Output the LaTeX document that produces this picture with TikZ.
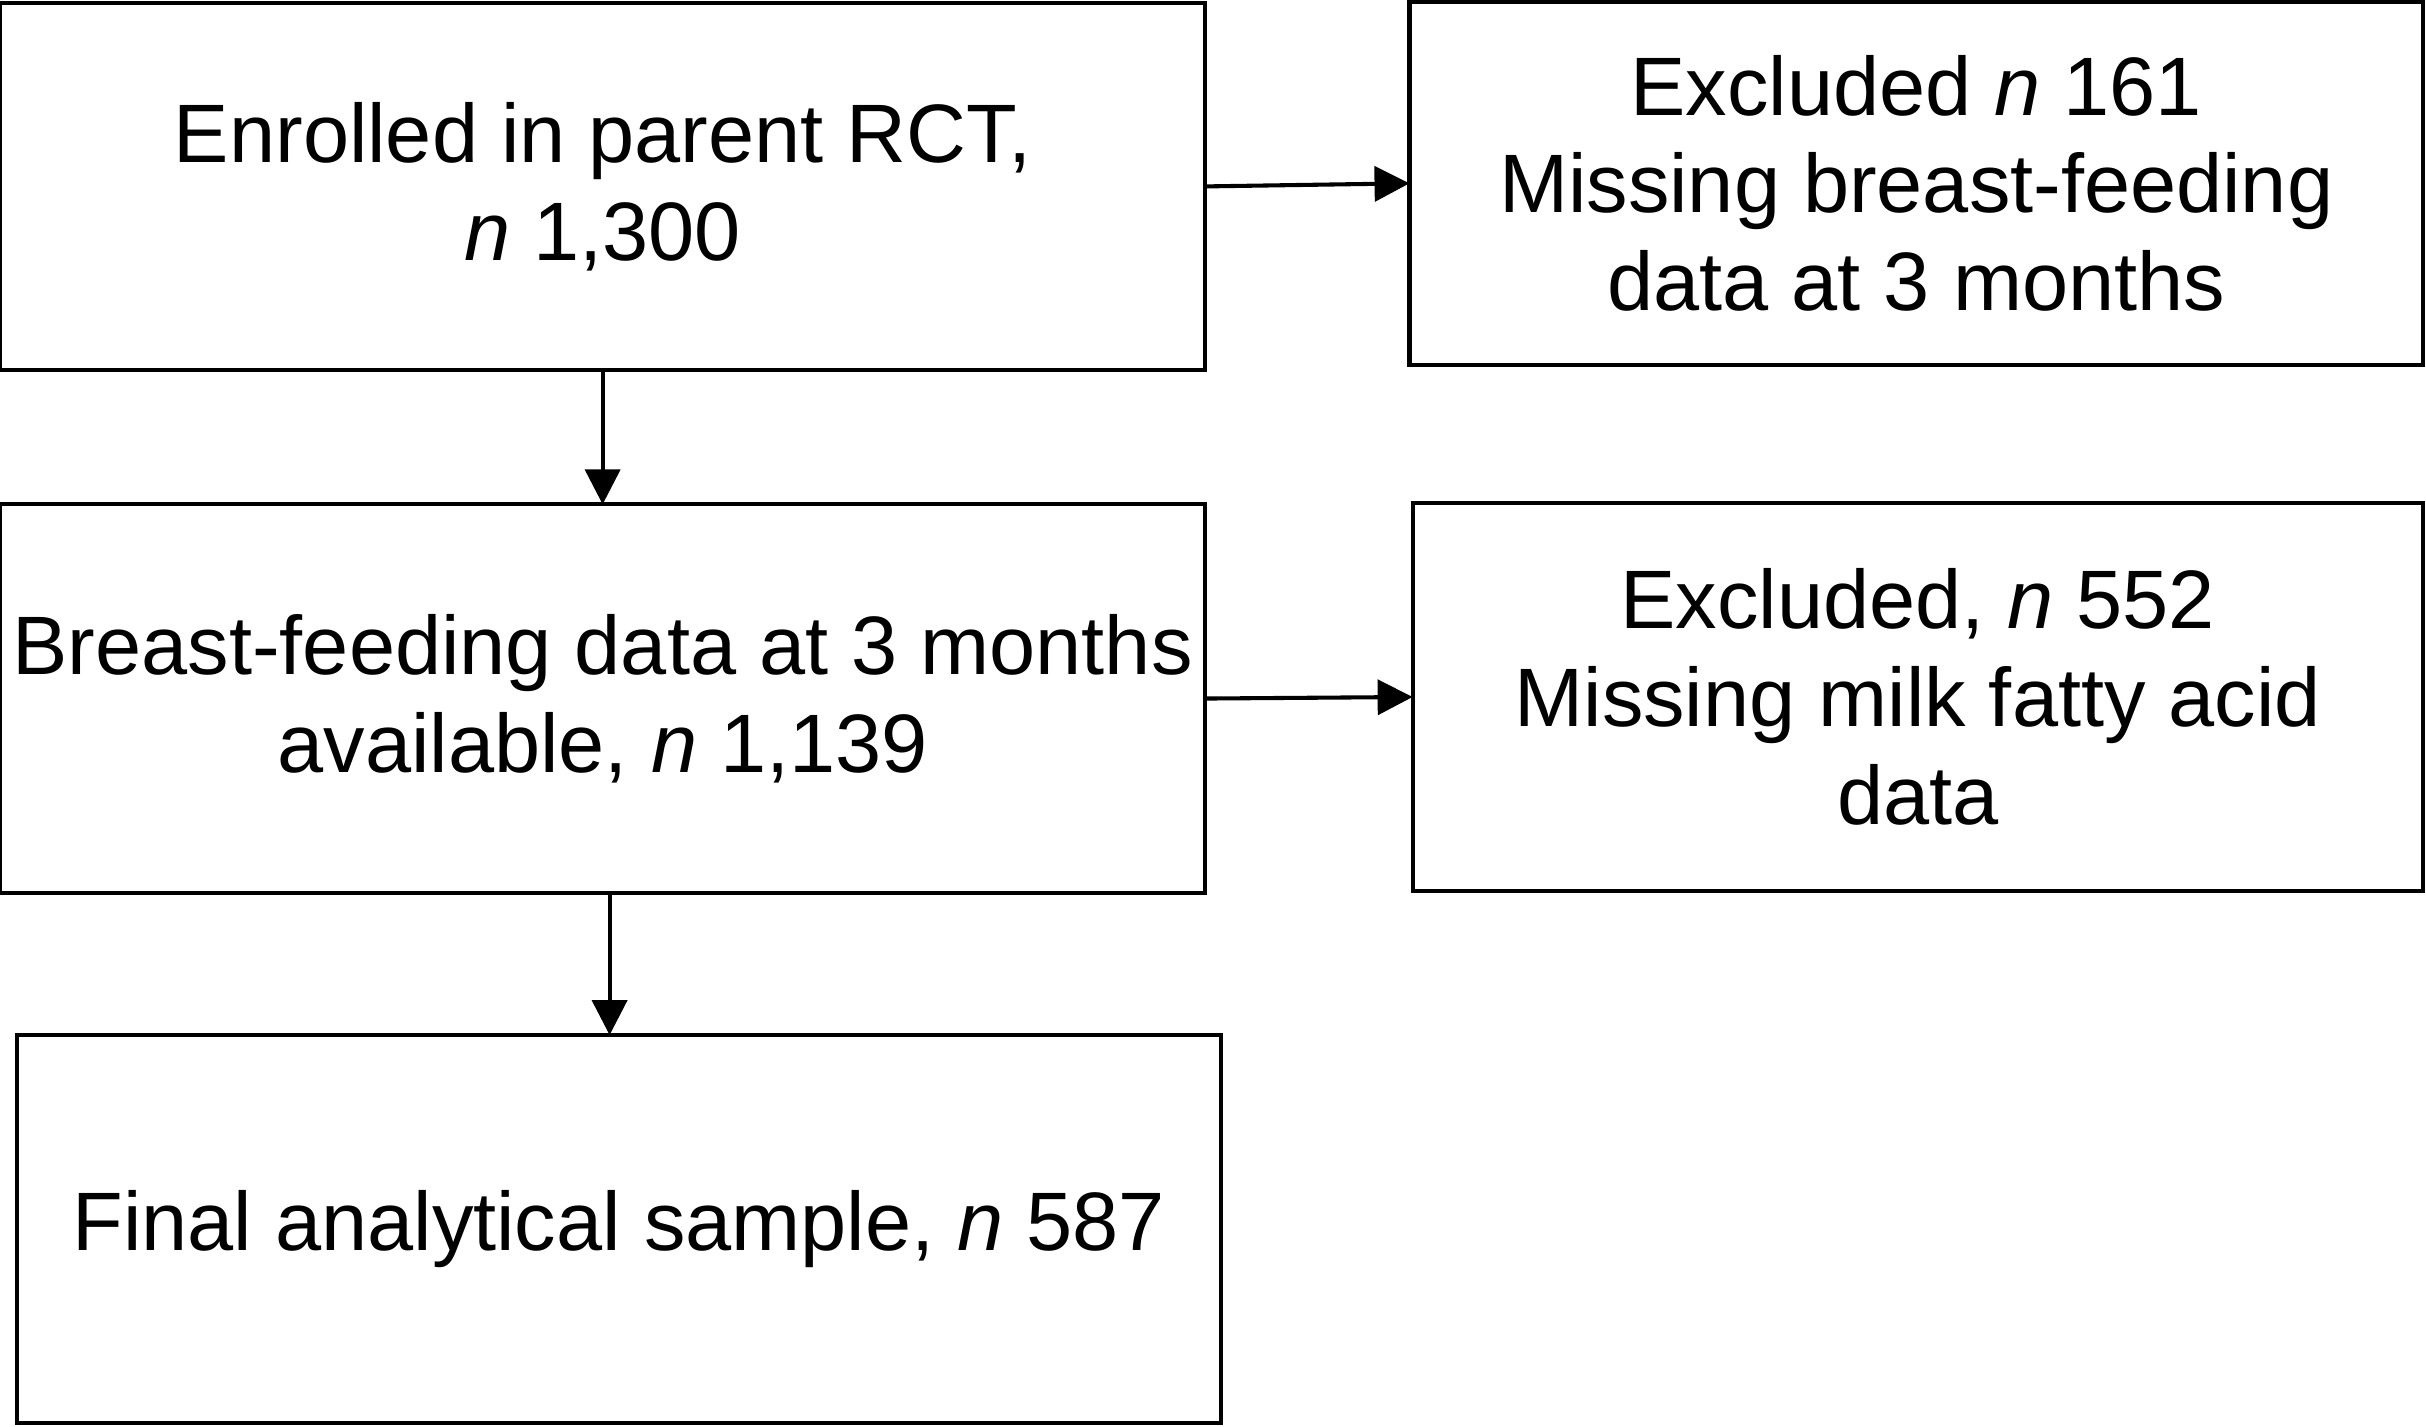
\documentclass[tikz,border=0pt]{standalone}
\usepackage{fontspec}
\setmainfont{Liberation Sans}
\usepackage{tikz}
\usetikzlibrary{arrows.meta}

\begin{document}
\begin{tikzpicture}[
		box/.style={draw, line width=0.75pt, inner sep=0pt, outer sep=0pt, align=center, font=\fontsize{15.25}{18}\selectfont},
		flow/.style={-{Triangle[length=0.226cm, width=0.226cm]}, line width=0.75pt}
	]
				\useasboundingbox (0,0) rectangle (15.68,-9.22);

				\node[box, minimum width=7.79cm, minimum height=2.37cm] (enrolled) at (3.895,-1.205) {Enrolled in parent RCT,\\\textit{n} 1,300};
				\node[box, minimum width=6.55cm, minimum height=2.35cm] (excluded1) at (12.385,-1.185) {Excluded \textit{n} 161\\Missing breast-feeding\\data at 3 months};
				\node[box, minimum width=7.79cm, minimum height=2.51cm] (bfdata) at (3.895,-4.515) {Breast-feeding data at 3 months\\available, \textit{n} 1,139};
				\node[box, minimum width=6.53cm, minimum height=2.51cm] (excluded2) at (12.395,-4.505) {Excluded, \textit{n} 552\\Missing milk fatty acid\\data};
				\node[box, minimum width=7.78cm, minimum height=2.51cm] (final) at (4.0,-7.945) {Final analytical sample, \textit{n} 587};

				\draw[flow] (enrolled.east) -- (excluded1.west);
				\draw[flow] (enrolled.south) -- (bfdata.north);
				\draw[flow] (bfdata.east) -- (excluded2.west);
				\draw[flow] ([xshift=0.045cm]bfdata.south) -- ([xshift=0.045cm]bfdata.south |- final.north);

			\end{tikzpicture}
\end{document}
